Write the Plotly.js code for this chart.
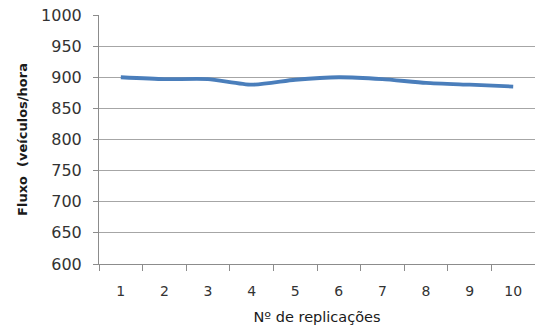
<!DOCTYPE html>
<html><head><meta charset="utf-8">
<script src="https://cdn.plot.ly/plotly-3.0.1.min.js"></script>
<style>html,body{margin:0;padding:0;background:#fff}#c{width:535px;height:331px}</style>
</head><body><div id="c"></div>
<script>
const replicacoes = ["1","2","3","4","5","6","7","8","9","10"];
const fluxo = [900, 897, 897, 888, 896, 900, 897, 891, 888, 885];
const yTicks = [600,650,700,750,800,850,900,950,1000];

const trace = {
  x: replicacoes, y: fluxo, type: "scatter", mode: "lines",
  line: {color: "#4a7ebb", width: 3.8, shape: "spline", smoothing: 0.6},
  hoverinfo: "none"
};
const layout = {
  width: 535, height: 331,
  margin: {l: 99, r: 0, t: 15, b: 67},
  paper_bgcolor: "#fff", plot_bgcolor: "#fff",
  showlegend: false,
  font: {family: "DejaVu Sans", color: "#333"},
  xaxis: {
    type: "category", range: [-0.5, 9.5],
    showgrid: false, showline: true, linecolor: "#8c8c8c", linewidth: 1,
    ticks: "outside", tickson: "boundaries", ticklen: 6, tickcolor: "#8c8c8c",
    tickfont: {size: 14, color: "#333"}, ticklabelstandoff: 14,
    title: {text: "Nº de replicações", font: {size: 14.5, color: "#1a1a1a"}, standoff: 14}
  },
  yaxis: {
    range: [600, 1000], tickvals: yTicks, ticktext: yTicks.map(String),
    showgrid: true, gridcolor: "#a6a6a6", gridwidth: 1,
    showline: true, linecolor: "#8c8c8c", linewidth: 1,
    ticks: "outside", ticklen: 5, tickcolor: "#8c8c8c",
    tickfont: {size: 16, color: "#333"}, ticklabelstandoff: 8,
    zeroline: false,
    title: {text: "<b>Fluxo  (veículos/hora</b>", font: {size: 13, color: "#1a1a1a"}, standoff: 10}
  }
};
Plotly.newPlot("c", [trace], layout, {displayModeBar: false, staticPlot: true});
</script></body></html>
